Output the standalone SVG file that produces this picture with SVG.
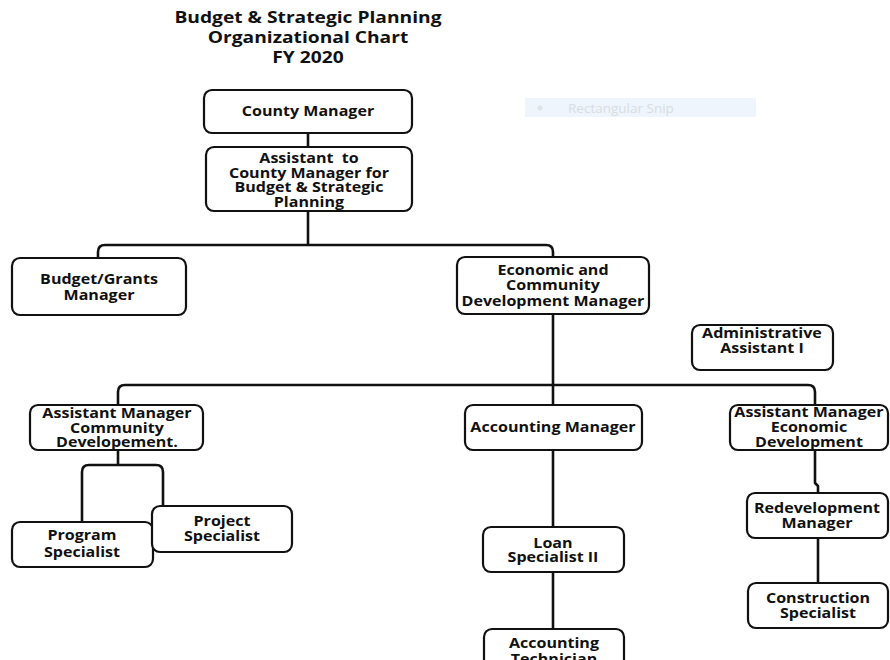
<svg xmlns="http://www.w3.org/2000/svg" width="890" height="660" viewBox="0 0 890 660">
  <style>
    .box { fill: #ffffff; stroke: #111111; stroke-width: 2.2; }
    .lbl { font-family: "Open Sans", "DejaVu Sans", sans-serif; font-weight: bold; font-size: 13.5px; fill: #111111; text-anchor: middle;
           white-space: pre; transform-box: fill-box; transform-origin: center; transform: scaleX(1.19); }
    .title { font-family: "Open Sans", "DejaVu Sans", sans-serif; font-weight: bold; font-size: 15.5px; fill: #111111; text-anchor: middle;
             transform-box: fill-box; transform-origin: center; transform: scaleX(1.24); }
    .wire { fill: none; stroke: #111111; stroke-width: 2.6; stroke-linejoin: round; }
    .snip { font-family: "Open Sans", "DejaVu Sans", sans-serif; font-size: 13.5px; fill: #d8dde3; }
  </style>
  <rect width="890" height="660" fill="#ffffff"/>

  <!-- heading -->
  <g id="title">
    <text class="title" x="308" y="23">Budget &amp; Strategic Planning</text>
    <text class="title" x="308" y="43">Organizational Chart</text>
    <text class="title" x="308" y="63">FY 2020</text>
  </g>

  <!-- faded tool banner -->
  <g id="snip-banner">
    <rect x="525" y="98" width="231" height="19" fill="#eef5fc"/>
    <circle cx="540" cy="108" r="2.5" fill="#dfe3e7"/>
    <text class="snip" x="568" y="113">Rectangular Snip</text>
  </g>

  <!-- connectors -->
  <g id="connectors">
    <path class="wire" d="M308,133 V147"/>
    <path class="wire" d="M308,211 V245"/>
    <path class="wire" d="M98,258 V252 Q98,245 105,245 H546 Q553,245 553,252 V257"/>
    <path class="wire" d="M553,314 V405"/>
    <path class="wire" d="M118,405 V392 Q118,385 125,385 H808 Q815,385 815,392 V405"/>
    <path class="wire" d="M553,450 V527"/>
    <path class="wire" d="M553,572 V629"/>
    <path class="wire" d="M815,450 V483 L818,486 V493"/>
    <path class="wire" d="M818,538 V583"/>
    <path class="wire" d="M118,450 V465"/>
    <path class="wire" d="M82,522 V472 Q82,465 89,465 H156 Q163,465 163,472 V506" stroke-width="3.2"/>
  </g>

  <g id="county-manager">
    <rect class="box" x="204" y="90" width="208" height="43" rx="8"/>
    <text class="lbl" x="308" y="116">County Manager</text>
  </g>

  <g id="assistant-to-cm">
    <rect class="box" x="206" y="147" width="206" height="64" rx="8"/>
    <text class="lbl" x="309" y="163">Assistant  to</text>
    <text class="lbl" x="309" y="178">County Manager for</text>
    <text class="lbl" x="309" y="192">Budget &amp; Strategic</text>
    <text class="lbl" x="309" y="207">Planning</text>
  </g>

  <g id="budget-grants-manager">
    <rect class="box" x="12" y="258" width="174" height="57" rx="8"/>
    <text class="lbl" x="99" y="284">Budget/Grants</text>
    <text class="lbl" x="99" y="300">Manager</text>
  </g>

  <g id="econ-community-dev-manager">
    <rect class="box" x="457" y="257" width="192" height="57" rx="8"/>
    <text class="lbl" x="553" y="275">Economic and</text>
    <text class="lbl" x="553" y="290">Community</text>
    <text class="lbl" x="553" y="306">Development Manager</text>
  </g>

  <g id="administrative-assistant">
    <rect class="box" x="692" y="325" width="141" height="45" rx="8"/>
    <text class="lbl" x="762" y="338">Administrative</text>
    <text class="lbl" x="762" y="353">Assistant I</text>
  </g>

  <g id="asst-manager-community">
    <rect class="box" x="30" y="405" width="173" height="45" rx="8"/>
    <text class="lbl" x="117" y="418">Assistant Manager</text>
    <text class="lbl" x="117" y="433">Community</text>
    <text class="lbl" x="117" y="447">Developement.</text>
  </g>

  <g id="accounting-manager">
    <rect class="box" x="465" y="405" width="177" height="45" rx="8"/>
    <text class="lbl" x="553" y="432">Accounting Manager</text>
  </g>

  <g id="asst-manager-economic">
    <rect class="box" x="730" y="405" width="158" height="45" rx="8"/>
    <text class="lbl" x="809" y="417">Assistant Manager</text>
    <text class="lbl" x="809" y="432">Economic</text>
    <text class="lbl" x="809" y="447">Development</text>
  </g>

  <g id="program-specialist">
    <rect class="box" x="12" y="522" width="141" height="45" rx="8"/>
    <text class="lbl" x="82" y="540">Program</text>
    <text class="lbl" x="82" y="557">Specialist</text>
  </g>

  <g id="project-specialist">
    <rect class="box" x="152" y="506" width="140" height="46" rx="8"/>
    <text class="lbl" x="222" y="526">Project</text>
    <text class="lbl" x="222" y="541">Specialist</text>
  </g>

  <g id="loan-specialist">
    <rect class="box" x="483" y="527" width="141" height="45" rx="8"/>
    <text class="lbl" x="553" y="548">Loan</text>
    <text class="lbl" x="553" y="562">Specialist II</text>
  </g>

  <g id="accounting-technician">
    <rect class="box" x="484" y="629" width="140" height="50" rx="8"/>
    <text class="lbl" x="554" y="648">Accounting</text>
    <text class="lbl" x="554" y="664">Technician</text>
  </g>

  <g id="redevelopment-manager">
    <rect class="box" x="747" y="493" width="141" height="45" rx="8"/>
    <text class="lbl" x="817" y="513">Redevelopment</text>
    <text class="lbl" x="817" y="528">Manager</text>
  </g>

  <g id="construction-specialist">
    <rect class="box" x="748" y="583" width="140" height="45" rx="8"/>
    <text class="lbl" x="818" y="603">Construction</text>
    <text class="lbl" x="818" y="618">Specialist</text>
  </g>
</svg>
